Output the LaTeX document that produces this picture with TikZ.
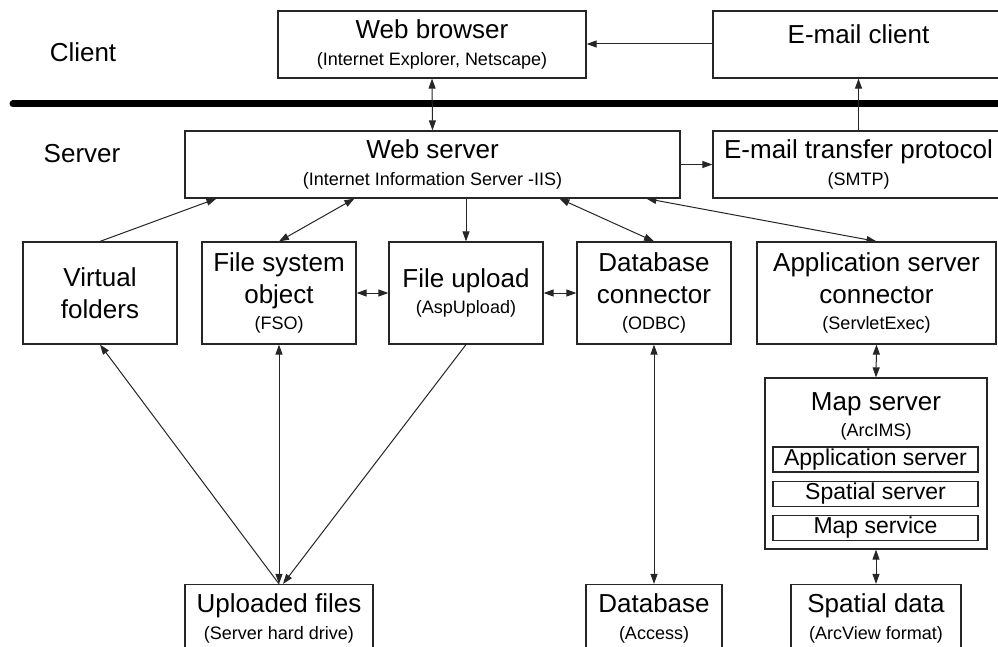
\documentclass[tikz,border=0pt]{standalone}
\usepackage{fontspec}
\setmainfont{Liberation Sans}
\usetikzlibrary{arrows.meta}
\newcommand\dgmain{\fontsize{26}{32}\selectfont}
\newcommand\dgsub{\fontsize{18}{22}\selectfont}
\newcommand\dginner{\fontsize{23}{26}\selectfont}
\tikzset{
  box/.style={draw=black!85, line width=1.2pt, inner sep=0pt, align=center, font=\dgmain, text=black},
  conn/.style={draw=black!85, line width=1pt, -{Triangle[length=10pt,width=7pt]}},
  dconn/.style={draw=black!85, line width=1pt, {Triangle[length=10pt,width=7pt]}-{Triangle[length=10pt,width=7pt]}},
  lbl/.style={font=\dgmain, inner sep=0pt, anchor=base}
}
\begin{document}
\begin{tikzpicture}[x=1pt,y=-1pt]
\useasboundingbox (0,0) rectangle (998,647);
\clip (0,0) rectangle (998,647);
\fill[white] (0,0) rectangle (998,647);
% labels
\node[lbl] (client) at (83,61.7) {Client};
\node[lbl] (server) at (82,163) {Server};
% thick line
\coordinate (lineL) at (13,104);
\coordinate (lineR) at (1010,104);
\draw[line width=7pt, line cap=round] (lineL) -- (lineR);
% top row
\node[box, minimum width=308pt, minimum height=67pt] (wb) at (432,44.5) {Web browser\\[-5pt]{\dgsub (Internet Explorer, Netscape)}};
\node[box, minimum width=291pt, minimum height=67pt] (ec) at (858.5,44.5) {E-mail client\\[-14pt]{\dgsub\phantom{(X)}}};
\node[box, minimum width=495pt, minimum height=67pt] (ws) at (432.5,164.5) {Web server\\[-5pt]{\dgsub (Internet Information Server -IIS)}};
\node[box, minimum width=291pt, minimum height=67pt] (et) at (858.5,164.5) {E-mail transfer protocol\\[-5pt]{\dgsub (SMTP)}};
% second row
\node[box, minimum width=154pt, minimum height=102pt] (vf) at (100,293) {Virtual\\folders};
\node[box, minimum width=154pt, minimum height=102pt] (fso) at (279,293) {File system\\object\\[-6pt]{\dgsub (FSO)}};
\node[box, minimum width=154pt, minimum height=102pt] (fu) at (466,293) {File upload\\[-6pt]{\dgsub (AspUpload)}};
\node[box, minimum width=154pt, minimum height=102pt] (dbc) at (654,293) {Database\\connector\\[-6pt]{\dgsub (ODBC)}};
\node[box, minimum width=239pt, minimum height=102pt] (asc) at (876.5,293) {Application server\\connector\\[-6pt]{\dgsub (ServletExec)}};
% map server
\node[box, minimum width=222pt, minimum height=171pt] (map) at (876,463.5) {};
\node[font=\dgmain, align=center, inner sep=0pt] (mapt) at (876,416) {Map server\\[-6pt]{\dgsub (ArcIMS)}};
\node[box, font=\dginner, minimum width=205pt, minimum height=25pt] (appsrv) at (875.5,459.5) {Application server};
\node[box, font=\dginner, minimum width=205pt, minimum height=25pt] (spsrv) at (875.5,494) {Spatial server};
\node[box, font=\dginner, minimum width=205pt, minimum height=25pt] (mapsvc) at (875.5,528) {Map service};
% bottom row
\node[box, minimum width=188pt, minimum height=67pt] (uf) at (279,618) {Uploaded files\\[-5pt]{\dgsub (Server hard drive)}};
\node[box, minimum width=136pt, minimum height=67pt] (db) at (654,618) {Database\\[-5pt]{\dgsub (Access)}};
\node[box, minimum width=170pt, minimum height=67pt] (sd) at (876,618) {Spatial data\\[-5pt]{\dgsub (ArcView format)}};
% connectors
\draw[conn] (ec.west |- 0,44) -- (wb.east |- 0,44);
\draw[dconn] (wb.south) -- (ws.north);
\draw[conn] (ws.east) -- (et.west);
\draw[conn] (et.north) -- (ec.south);
\draw[conn] (vf.north) -- ([xshift=32pt]ws.south west);
\draw[dconn] (fso.north) -- ([xshift=170pt]ws.south west);
\draw[conn] (ws.south -| fu.north) -- (fu.north);
\draw[dconn] ([xshift=375pt]ws.south west) -- (dbc.north);
\draw[dconn] ([xshift=462pt]ws.south west) -- (asc.north);
\draw[dconn] (fso.east) -- (fu.west);
\draw[dconn] (fu.east) -- (dbc.west);
\draw[dconn] (asc.south) -- (map.north);
\draw[dconn] (map.south) -- (sd.north);
\draw[dconn] (dbc.south) -- (db.north);
\draw[conn] (uf.north) -- (vf.south);
\draw[dconn] (fso.south) -- (uf.north);
\draw[conn] (fu.south) -- ([xshift=4pt]uf.north);
\end{tikzpicture}
\end{document}
